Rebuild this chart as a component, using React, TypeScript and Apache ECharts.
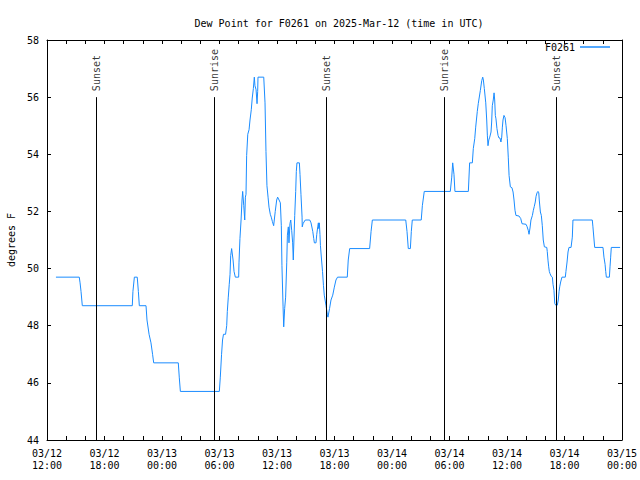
import React, { useEffect, useRef } from "react";
import * as echarts from "echarts";

// Start of the x range: 2025-03-12 12:00 UTC
const START = Date.UTC(2025, 2, 12, 12, 0);
const HOURS_SPAN = 60;

// Minutes after 03/12 12:00 UTC
const timesMin = [
  56, 202, 207, 213, 221, 534, 538, 547, 565, 572, 578, 620, 626, 639, 651, 661, 668,
  822, 828, 835, 1079, 1085, 1093, 1099, 1105, 1118, 1125, 1129, 1135, 1141, 1146, 1150,
  1156, 1165, 1171, 1179, 1200, 1202, 1208, 1215, 1221, 1225, 1232, 1238, 1242, 1246,
  1250, 1257, 1265, 1271, 1279, 1285, 1292, 1298, 1302, 1309, 1315, 1319, 1321, 1357,
  1365, 1371, 1377, 1384, 1390, 1398, 1404, 1411, 1419, 1423, 1429, 1438, 1444, 1453,
  1461, 1467, 1471, 1478, 1482, 1488, 1494, 1501, 1505, 1511, 1515, 1521, 1526, 1532,
  1538, 1542, 1546, 1551, 1557, 1561, 1565, 1580, 1584, 1590, 1597, 1598, 1603, 1609,
  1617, 1645, 1653, 1664, 1670, 1674, 1684, 1689, 1695, 1699, 1701, 1705, 1709, 1712,
  1719, 1725, 1731, 1736, 1747, 1755, 1759, 1769, 1778, 1789, 1799, 1809, 1819, 1880,
  1886, 1895, 2020, 2029, 2037, 2246, 2254, 2262, 2275, 2281, 2287, 2343, 2350, 2362,
  2525, 2534, 2540, 2548, 2554, 2638, 2646, 2663, 2669, 2678, 2684, 2694, 2700, 2713,
  2722, 2728, 2732, 2738, 2747, 2753, 2757, 2761, 2766, 2772, 2780, 2784, 2788, 2794,
  2799, 2803, 2807, 2811, 2817, 2824, 2830, 2836, 2842, 2847, 2851, 2855, 2861, 2868,
  2874, 2882, 2888, 2893, 2901, 2911, 2918, 2924, 2930, 2936, 2955, 2966, 2974, 2999,
  3005, 3013, 3018, 3024, 3030, 3039, 3045, 3051, 3057, 3062, 3068, 3074, 3079, 3082,
  3089, 3095, 3101, 3107, 3114, 3129, 3132, 3137, 3141, 3145, 3149, 3157, 3164, 3168,
  3174, 3179, 3185, 3195, 3201, 3206, 3210, 3216, 3224, 3245, 3249, 3256, 3262, 3268,
  3281, 3289, 3293, 3414, 3418, 3425, 3429, 3481, 3487, 3494, 3498, 3502, 3521, 3525,
  3529, 3533, 3588,
];

// Dew point, degrees F
const dewPointF = [
  49.7, 49.7, 49.5, 49.2, 48.7, 48.7, 49.2, 49.7, 49.7, 49.2, 48.7, 48.7, 48.2, 47.7, 47.4, 47.0, 46.7,
  46.7, 46.2, 45.7, 45.7, 46.2, 47.0, 47.5, 47.7, 47.7, 48.0, 48.5, 49.0, 49.45, 49.8, 50.45,
  50.7, 50.3, 49.9, 49.7, 49.7, 50.2, 51.05, 51.7, 52.4, 52.7, 52.2, 51.7, 52.5, 52.6,
  53.96, 54.7, 54.86, 55.2, 55.56, 55.97, 56.3, 56.7, 56.4, 56.26, 55.77, 56.2, 56.7, 56.7,
  55.8, 54.1, 52.9, 52.5, 52.15, 51.9, 51.8, 51.65, 51.5, 51.7, 52.0, 52.4, 52.5, 52.4,
  52.3, 51.5, 50.1, 48.66, 47.96, 48.6, 49.0, 50.2, 51.17, 51.46, 50.9, 51.57, 51.7, 51.34,
  50.9, 50.3, 51.0, 51.86, 52.7, 53.4, 53.7, 53.7, 53.3, 52.6, 51.8, 51.46, 51.57, 51.63,
  51.7, 51.7, 51.6, 51.3, 51.05, 50.9, 50.9, 51.2, 51.46, 51.6, 51.4, 51.6, 51.2, 50.8,
  50.3, 49.9, 49.4, 49.07, 48.7, 48.4, 48.3, 48.6, 48.9, 49.07, 49.35, 49.6, 49.7, 49.7,
  50.3, 50.7, 50.7, 51.3, 51.7, 51.7, 51.3, 50.7, 50.7, 51.3, 51.7, 51.7, 52.2, 52.7,
  52.7, 53.2, 53.7, 53.3, 52.7, 52.7, 53.7, 53.7, 54.2, 54.55, 54.95, 55.5, 55.77, 56.23,
  56.58, 56.7, 56.6, 56.3, 55.8, 55.2, 54.67, 54.3, 54.5, 54.6, 54.78, 55.13, 55.7, 55.9,
  56.15, 55.9, 55.36, 55.24, 54.9, 54.66, 54.57, 54.57, 54.43, 54.6, 54.95, 55.2, 55.36, 55.28,
  55.0, 54.55, 53.9, 53.26, 52.86, 52.83, 52.68, 52.4, 52.04, 51.86, 51.84, 51.75, 51.57, 51.55,
  51.48, 51.34, 51.2, 51.42, 51.7, 51.86, 52.04, 52.18, 52.33, 52.53, 52.65, 52.7, 52.65, 52.4,
  51.98, 51.86, 51.5, 51.0, 50.76, 50.74, 50.6, 50.27, 50.06, 49.9, 49.83, 49.73, 49.7, 49.45,
  49.24, 48.78, 48.72, 48.72, 48.9, 49.2, 49.36, 49.53, 49.7, 49.7, 49.9, 50.23, 50.58, 50.74,
  50.74, 51.1, 51.7, 51.7, 51.46, 51.0, 50.74, 50.74, 50.4, 50.15, 49.9, 49.7, 49.7, 50.06,
  50.4, 50.74, 50.74,
];

// Sun events (minutes after 03/12 12:00 UTC)
const sunEventLabels = ["Sunset", "Sunrise", "Sunset", "Sunrise", "Sunset"];
const sunEventMin = [311, 1047, 1749, 2488, 3189];
const sunLineBottom = 44;
const sunLineTop = 56;

const yMin = 44;
const yMax = 58;
const yStep = 2;

const SERIES_NAME = "F0261";
const TITLE = "Dew Point for F0261 on 2025-Mar-12 (time in UTC)";
const Y_NAME = "degrees F";

const FONT = "'DejaVu Sans Mono', 'Liberation Mono', monospace";
const BLUE = "#1a8cff";

const pad = (n: number) => (n < 10 ? "0" + n : "" + n);

export default function App() {
  const ref = useRef<HTMLDivElement>(null);

  useEffect(() => {
    if (!ref.current) return;
    const chart = echarts.init(ref.current, undefined, { renderer: "svg" });
    const toMs = (m: number) => START + m * 60000;
    const data = timesMin.map((m, i) => [toMs(m), dewPointF[i]]);
    const xMax = START + HOURS_SPAN * 3600000;
    const twoH = 2 * 3600000;

    const fmt = (v: number) => {
      const d = new Date(v);
      if (d.getUTCHours() % 6 !== 0 || d.getUTCMinutes() !== 0) return "";
      return (
        pad(d.getUTCMonth() + 1) + "/" + pad(d.getUTCDate()) + "\n" +
        pad(d.getUTCHours()) + ":" + pad(d.getUTCMinutes())
      );
    };

    const markLineData = sunEventMin.map((m) => [
      { coord: [toMs(m), sunLineBottom] },
      { coord: [toMs(m), sunLineTop] },
    ]);

    chart.setOption({
      animation: false,
      backgroundColor: "#ffffff",
      textStyle: { fontFamily: FONT },
      title: {
        text: TITLE,
        left: 334,
        textAlign: "center",
        top: 13,
        textStyle: { fontFamily: FONT, fontSize: 10, fontWeight: "normal", color: "#000" },
      },
      legend: {
        data: [SERIES_NAME],
        right: 30,
        top: 42,
        padding: 0,
        align: "right",
        icon: "rect",
        itemWidth: 30,
        itemHeight: 1.5,
        itemGap: 6,
        textStyle: { fontFamily: FONT, fontSize: 10, color: "#000", padding: [0, 0, 0, 0] },
      },
      grid: {
        left: 47,
        right: 18,
        top: 40,
        bottom: 40,
        containLabel: false,
        outerBoundsMode: "none",
      },
      xAxis: [
        {
          type: "value",
          min: START,
          max: xMax,
          interval: twoH,
          position: "bottom",
          axisLine: { show: true, lineStyle: { color: "#000", width: 1 } },
          axisTick: { show: true, inside: true, length: 4, lineStyle: { color: "#000" } },
          axisLabel: {
            formatter: fmt,
            fontFamily: FONT,
            fontSize: 10,
            color: "#000",
            lineHeight: 12,
            margin: 7,
            showMinLabel: true,
            showMaxLabel: true,
          },
          splitLine: { show: false },
        },
        {
          type: "value",
          min: START,
          max: xMax,
          interval: twoH,
          position: "top",
          axisLine: { show: true, onZero: false, lineStyle: { color: "#000", width: 1 } },
          axisTick: { show: true, inside: true, length: 4, lineStyle: { color: "#000" } },
          axisLabel: { show: false },
          splitLine: { show: false },
        },
      ],
      yAxis: [
        {
          type: "value",
          min: yMin,
          max: yMax,
          interval: yStep,
          position: "left",
          name: Y_NAME,
          nameLocation: "middle",
          nameGap: 31,
          nameRotate: 90,
          nameTextStyle: { fontFamily: FONT, fontSize: 10, color: "#000" },
          axisLine: { show: true, lineStyle: { color: "#000", width: 1 } },
          axisTick: { show: true, inside: true, length: 4, lineStyle: { color: "#000" } },
          axisLabel: { fontFamily: FONT, fontSize: 10, color: "#000", margin: 8 },
          splitLine: { show: false },
        },
        {
          type: "value",
          min: yMin,
          max: yMax,
          interval: yStep,
          position: "right",
          axisLine: { show: true, onZero: false, lineStyle: { color: "#000", width: 1 } },
          axisTick: { show: true, inside: true, length: 4, lineStyle: { color: "#000" } },
          axisLabel: { show: false },
          splitLine: { show: false },
        },
      ],
      series: [
        {
          name: SERIES_NAME,
          type: "line",
          data,
          showSymbol: false,
          symbol: "none",
          lineStyle: { color: BLUE, width: 1 },
          itemStyle: { color: BLUE },
          silent: true,
          markLine: {
            silent: true,
            symbol: ["none", "none"],
            label: { show: false },
            lineStyle: { color: "#000", width: 1, type: "solid" },
            data: markLineData,
          },
        },
        {
          name: "sun",
          type: "scatter",
          symbolSize: 0,
          silent: true,
          data: sunEventMin.map((m, i) => ({ value: [toMs(m), sunLineTop], name: sunEventLabels[i] })),
          label: {
            show: true,
            position: "top",
            distance: 6,
            rotate: 90,
            align: "left",
            verticalAlign: "middle",
            formatter: (p: any) => p.name,
            fontFamily: FONT,
            fontSize: 10,
            color: "#000",
          },
        },
      ],
    });

    return () => chart.dispose();
  }, []);

  return (
    <div
      ref={ref}
      style={{ position: "fixed", left: 0, top: 0, width: 640, height: 480 }}
    />
  );
}
